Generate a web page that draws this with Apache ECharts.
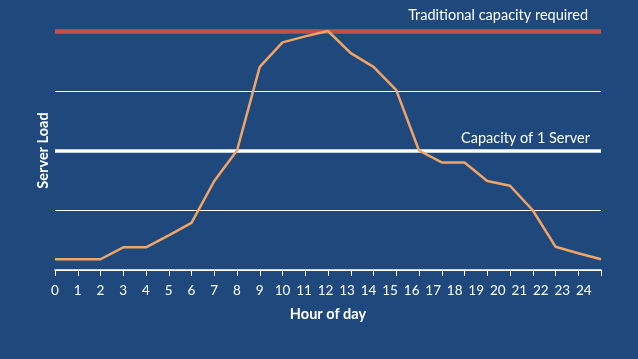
<!DOCTYPE html>
<html>
<head>
<meta charset="utf-8">
<script src="https://cdn.jsdelivr.net/npm/echarts@6/dist/echarts.min.js"></script>
<style>
html,body{margin:0;padding:0;background:#1F497D;}
#chart{width:638px;height:359px;}
</style>
</head>
<body>
<div id="chart"></div>
<script>
// Data
const hours = [0,1,2,3,4,5,6,7,8,9,10,11,12,13,14,15,16,17,18,19,20,21,22,23,24];
const serverLoad = [0.18,0.18,0.18,0.38,0.38,0.58,0.79,1.49,2.0,3.40,3.81,3.91,4.0,3.63,3.40,3.01,2.0,1.80,1.80,1.49,1.41,1.0,0.39,0.28,0.18];
const tickLabels = ['0','1','2','3','4','5','6','7','8','9','10','11','12','13','14','15','16','17','18','19','20','21','22','23','24'];
const traditionalCapacity = 4;
const oneServerCapacity = 2;

// label placement: two-digit labels are set slightly tighter, as in the original
const labelPos = tickLabels.map((t, i) => i < 10 ? i : 10 + (i - 10) * 0.946);

const chart = echarts.init(document.getElementById('chart'));
const fontFamily = 'Lato, "Open Sans", sans-serif';
chart.setOption({
  backgroundColor: '#1F497D',
  animation: false,
  grid: {left: 55, right: 37, top: 31, bottom: 89, containLabel: false},
  xAxis: {
    type: 'value', min: 0, max: 24, interval: 1,
    name: 'Hour of day', nameLocation: 'middle', nameGap: 37,
    nameTextStyle: {color: '#FFFFFF', fontSize: 14.5, fontWeight: 'bold', fontFamily},
    axisLine: {show: true, lineStyle: {color: '#FFFFFF', width: 1.5}},
    axisTick: {show: true, length: 6, lineStyle: {color: '#FFFFFF', width: 1}},
    axisLabel: {
      customValues: labelPos,
      color: '#FFFFFF', fontSize: 13.5, fontFamily, margin: 14,
      formatter: function (v) {
        let idx = 0, best = 1e9;
        labelPos.forEach((p, i) => { if (Math.abs(p - v) < best) { best = Math.abs(p - v); idx = i; } });
        return tickLabels[idx];
      }
    },
    splitLine: {show: false}
  },
  yAxis: {
    type: 'value', min: 0, max: 4, interval: 1,
    name: 'Server Load', nameLocation: 'middle', nameGap: 4,
    nameTextStyle: {color: '#FFFFFF', fontSize: 14.5, fontWeight: 'bold', fontFamily},
    axisLine: {show: false}, axisTick: {show: false}, axisLabel: {show: false},
    splitLine: {show: true, lineStyle: {color: '#FFFFFF', width: 1}}
  },
  series: [
    {
      name: 'Server Load', type: 'line', symbol: 'none',
      data: hours.map((h, i) => [h, serverLoad[i]]),
      lineStyle: {color: '#F2A366', width: 2.5},
      z: 4,
      markLine: {
        silent: true, symbol: 'none', z: 3,
        data: [
          {
            yAxis: oneServerCapacity,
            lineStyle: {color: '#FFFFFF', width: 3.5, type: 'solid'},
            label: {show: true, position: 'insideEndTop', formatter: 'Capacity of 1 Server', color: '#FFFFFF', fontSize: 14.5, fontFamily, distance: [11, 5]}
          },
          {
            yAxis: traditionalCapacity,
            lineStyle: {color: '#C0504D', width: 4.5, type: 'solid'},
            label: {show: true, position: 'insideEndTop', formatter: 'Traditional capacity required', color: '#FFFFFF', fontSize: 14.5, fontFamily, distance: [13, 8]}
          }
        ]
      }
    }
  ]
});
</script>
</body>
</html>
